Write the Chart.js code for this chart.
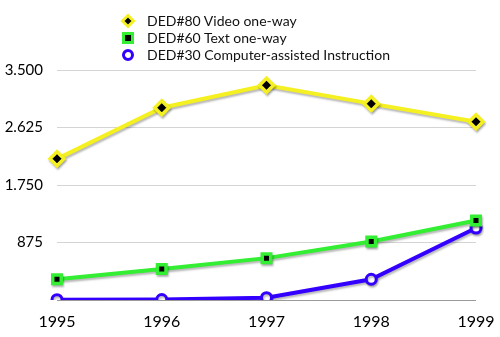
<!DOCTYPE html>
<html>
<head>
<meta charset="utf-8">
<script src="https://cdn.jsdelivr.net/npm/chart.js@4/dist/chart.umd.min.js"></script>
<style>
  html, body { margin: 0; padding: 0; background: #fff; }
  #wrap { position: relative; width: 500px; height: 337px; }
  #legend { position: absolute; left: 120px; top: 12px; font-family: Lato, "Open Sans", sans-serif; font-size: 14px; color: #111; }
  .item { height: 17px; line-height: 17px; display: flex; align-items: center; white-space: nowrap; }
  .mk { width: 16px; height: 16px; margin-right: 11px; position: relative; }
  .mk canvas { position: absolute; left: 0; top: 0; }
</style>
</head>
<body>
<div id="wrap">
  <canvas id="c" width="500" height="337"></canvas>
  <div id="legend"></div>
</div>
<script>
const categories = ['1995', '1996', '1997', '1998', '1999'];
const seriesNames = ['DED#80 Video one-way', 'DED#60 Text one-way', 'DED#30 Computer-assisted Instruction'];
const videoOneWay = [2148, 2926, 3267, 2988, 2713];
const textOneWay = [316, 473, 637, 890, 1211];
const computerAssisted = [5, 8, 35, 316, 1095];
const yTickValues = [0, 875, 1750, 2625, 3500];
const yTickLabels = ['', '875', '1.750', '2.625', '3.500'];

const YELLOW = '#f5f021', GREEN = '#33ee33', BLUE = '#3300ff';
const FONT = 'Lato, "Open Sans", sans-serif';

const shadowPlugin = {
  id: 'shadow',
  beforeDatasetsDraw(chart) {
    const ctx = chart.ctx;
    ctx.save();
    ctx.shadowColor = 'rgba(0,0,0,0.28)';
    ctx.shadowBlur = 2;
    ctx.shadowOffsetX = 1;
    ctx.shadowOffsetY = 2;
  },
  afterDatasetsDraw(chart) { chart.ctx.restore(); }
};

const chart = new Chart(document.getElementById('c'), {
  type: 'line',
  data: {
    labels: categories,
    datasets: [
      { label: seriesNames[0], data: videoOneWay, borderColor: YELLOW, borderWidth: 4,
        pointStyle: 'rectRot', pointRadius: 7, pointBackgroundColor: '#000', pointBorderColor: YELLOW, pointBorderWidth: 3.5 },
      { label: seriesNames[1], data: textOneWay, borderColor: GREEN, borderWidth: 4,
        pointStyle: 'rect', pointRadius: 6, pointBackgroundColor: '#000', pointBorderColor: GREEN, pointBorderWidth: 3.5 },
      { label: seriesNames[2], data: computerAssisted, borderColor: BLUE, borderWidth: 4,
        pointStyle: 'circle', pointRadius: 5, pointBackgroundColor: '#fff', pointBorderColor: BLUE, pointBorderWidth: 3 }
    ]
  },
  options: {
    responsive: false,
    animation: false,
    layout: { padding: { top: 70, right: 24, left: 0, bottom: 0 } },
    plugins: { legend: { display: false }, tooltip: { enabled: false } },
    scales: {
      x: {
        offset: false,
        grid: { display: false, drawTicks: false },
        border: { display: false },
        ticks: { color: '#000', font: { family: FONT, size: 16 }, padding: 12, maxRotation: 0 },
        afterFit(s) { s.height = 37; s.paddingRight = 0; s.paddingLeft = 0; }
      },
      y: {
        min: 0, max: 3500,
        afterBuildTicks(s) { s.ticks = yTickValues.map(v => ({ value: v })); },
        grid: { color: c => c.tick && c.tick.value === 0 ? '#9a9a9a' : '#d4d4d4', lineWidth: 1, drawTicks: false },
        border: { display: false },
        ticks: { color: '#000', font: { family: FONT, size: 15 }, padding: 14,
          callback: (v) => yTickLabels[yTickValues.indexOf(v)] },
        afterFit(s) { s.width = 57; }
      }
    }
  },
  plugins: [shadowPlugin]
});

// HTML legend
const legendEl = document.getElementById('legend');
chart.data.datasets.forEach(ds => {
  const item = document.createElement('div');
  item.className = 'item';
  const mk = document.createElement('div');
  mk.className = 'mk';
  const cv = document.createElement('canvas');
  cv.width = 16; cv.height = 16;
  mk.appendChild(cv);
  const ctx = cv.getContext('2d');
  ctx.lineWidth = 3;
  ctx.strokeStyle = ds.pointBorderColor;
  ctx.fillStyle = ds.pointBackgroundColor;
  ctx.beginPath();
  if (ds.pointStyle === 'rectRot') {
    ctx.moveTo(8, 2.5); ctx.lineTo(13.5, 8); ctx.lineTo(8, 13.5); ctx.lineTo(2.5, 8); ctx.closePath();
  } else if (ds.pointStyle === 'rect') {
    ctx.rect(3.5, 3.5, 9, 9);
  } else {
    ctx.arc(8, 8, 4.5, 0, Math.PI * 2);
  }
  ctx.fill(); ctx.stroke();
  const t = document.createElement('span');
  t.textContent = ds.label;
  item.appendChild(mk); item.appendChild(t);
  legendEl.appendChild(item);
});
</script>
</body>
</html>
